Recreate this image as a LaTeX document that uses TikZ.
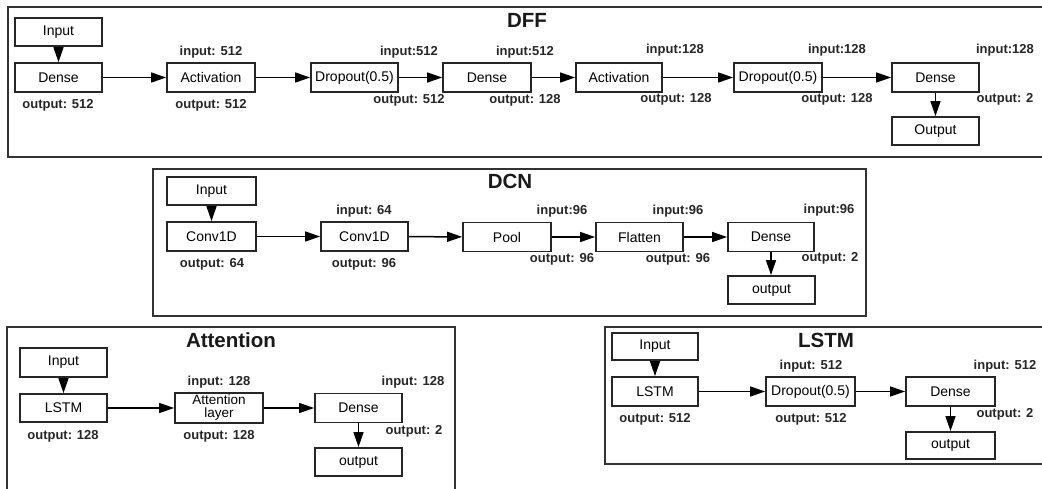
\documentclass[tikz,border=0pt]{standalone}
\usepackage{fontspec}
\setmainfont{Liberation Sans}
\usetikzlibrary{arrows.meta}
\begin{document}
\begin{tikzpicture}[x=1pt,y=-1pt,
  layer/.style={draw=black!85,line width=1.8pt,fill=white,inner sep=1pt,
    minimum height=29pt,minimum width=87pt,font=\fontsize{14}{14}\selectfont},
  lbl/.style={inner sep=0pt,text=black!85,font=\fontsize{13}{13}\selectfont\bfseries},
  ttl/.style={inner sep=0pt,text=black!90,font=\fontsize{20.5}{20.5}\selectfont\bfseries},
  panel/.style={draw=black!80,line width=1.5pt},
  arr/.style={draw=black,line width=1.5pt,-{Triangle[length=15pt,width=10pt]}}]
\useasboundingbox (0,0) rectangle (1042,488);
\clip (0,0) rectangle (1042,488);
\fill[white] (0,0) rectangle (1042,488);

% ---------------- DFF ----------------
\draw[panel] (8,7) rectangle (1050,157);
\node[ttl] (tDFF) at (527,20) {DFF};
\node[layer,minimum height=28pt] (in1) at (58.5,32) {Input};
\node[layer] (d1) at (58.5,77.5) {Dense};
\node[layer,minimum width=88pt] (act1) at (211,77.5) {Activation};
\node[layer] (drop1) at (354.5,77.5) {Dropout(0.5)};
\node[layer,minimum width=88pt] (den2) at (487,77.5) {Dense};
\node[layer,minimum width=86pt] (act2) at (619,77.5) {Activation};
\node[layer,minimum width=88pt] (drop2) at (778,77.5) {Dropout(0.5)};
\node[layer] (den3) at (935.5,77.5) {Dense};
\node[layer,minimum height=28pt] (out1) at (935.5,131) {Output};
\draw[arr] (in1) -- (d1);
\draw[arr] (d1) -- (act1);
\draw[arr] (act1) -- (drop1);
\draw[arr] (drop1) -- (den2);
\draw[arr] (den2) -- (act2);
\draw[arr] (act2) -- (drop2);
\draw[arr] (drop2) -- (den3);
\draw[arr] (den3) -- (out1);
\node[lbl] (l1) at (58,105) {output: 512};
\node[lbl] (l2) at (211,52) {input: 512};
\node[lbl] (l3) at (211,105) {output: 512};
\node[lbl] (l4) at (409,52) {input:512};
\node[lbl] (l5) at (409,100) {output: 512};
\node[lbl] (l6) at (525,52) {input:512};
\node[lbl] (l7) at (525,100) {output: 128};
\node[lbl] (l8) at (675,50) {input:128};
\node[lbl] (l9) at (676,99) {output: 128};
\node[lbl] (l10) at (837,50) {input:128};
\node[lbl] (l11) at (837,99) {output: 128};
\node[lbl] (l12) at (1005,50) {input:128};
\node[lbl] (l13) at (1005,99) {output: 2};

% ---------------- DCN ----------------
\draw[panel] (153,169) rectangle (866,316);
\node[ttl] (tDCN) at (510,181) {DCN};
\node[layer,minimum width=89pt,minimum height=28pt] (in2) at (211.5,191) {Input};
\node[layer,minimum width=89pt] (c1) at (211.5,236.5) {Conv1D};
\node[layer] (c2) at (364.5,236.5) {Conv1D};
\node[layer,minimum width=88pt] (pool) at (507,237) {Pool};
\node[layer] (flat) at (639.5,237) {Flatten};
\node[layer,minimum width=86pt] (den4) at (771,237) {Dense};
\node[layer,minimum height=28pt] (out2) at (771.5,290) {output};
\draw[arr] (in2) -- (c1);
\draw[arr] (c1) -- (c2);
\draw[arr] (c2) -- (pool);
\draw[arr] (pool) -- (flat);
\draw[arr] (flat) -- (den4);
\draw[arr] (den4.south) -- (den4.south |- out2.north);
\node[lbl] (m1) at (212,264) {output: 64};
\node[lbl] (m2) at (364,211) {input: 64};
\node[lbl] (m3) at (364,264) {output: 96};
\node[lbl] (m4) at (562,211) {input:96};
\node[lbl] (m5) at (562,259) {output: 96};
\node[lbl] (m6) at (678,211) {input:96};
\node[lbl] (m7) at (678,259) {output: 96};
\node[lbl] (m8) at (829,210) {input:96};
\node[lbl] (m9) at (830,258) {output: 2};

% ---------------- Attention ----------------
\draw[panel] (7,500) -- (7,327) -- (455,327) -- (455,500);
\node[ttl] (tAtt) at (231,340) {Attention};
\node[layer] (in3) at (63.5,362.5) {Input};
\node[layer,minimum height=28pt] (lstm1) at (63.5,408) {LSTM};
\node[layer,minimum width=88pt,minimum height=30pt,align=center,
  font=\fontsize{13.5}{13}\selectfont] (att) at (219,408) {Attention\\layer};
\node[layer] (den5) at (358.5,408) {Dense};
\node[layer,minimum height=28pt] (out3) at (358.5,462) {output};
\draw[arr] (in3) -- (lstm1);
\draw[arr] (lstm1) -- (att);
\draw[arr] (att) -- (den5);
\draw[arr] (den5) -- (out3);
\node[lbl] (a1) at (63,436) {output: 128};
\node[lbl] (a2) at (219,382) {input: 128};
\node[lbl] (a3) at (219,436) {output: 128};
\node[lbl] (a4) at (413,382) {input: 128};
\node[lbl] (a5) at (414,431) {output: 2};

% ---------------- LSTM ----------------
\draw[panel] (1050,464) -- (605,464) -- (605,327) -- (1050,327);
\node[ttl] (tLSTM) at (826,340) {LSTM};
\node[layer,minimum width=86pt,minimum height=27pt] (in4) at (655,346.5) {Input};
\node[layer,minimum width=86pt] (lstm2) at (655,391.5) {LSTM};
\node[layer,minimum width=89pt] (drop3) at (810.5,391.5) {Dropout(0.5)};
\node[layer,minimum width=89pt] (den6) at (950.5,391.5) {Dense};
\node[layer,minimum width=89pt,minimum height=27pt] (out4) at (950.5,445.5) {output};
\draw[arr] (in4) -- (lstm2);
\draw[arr] (lstm2) -- (drop3);
\draw[arr] (drop3) -- (den6);
\draw[arr] (den6) -- (out4);
\node[lbl] (s1) at (655,419) {output: 512};
\node[lbl] (s2) at (811,366) {input: 512};
\node[lbl] (s3) at (811,419) {output: 512};
\node[lbl] (s4) at (1005,366) {input: 512};
\node[lbl] (s5) at (1005,414) {output: 2};
\end{tikzpicture}
\end{document}
